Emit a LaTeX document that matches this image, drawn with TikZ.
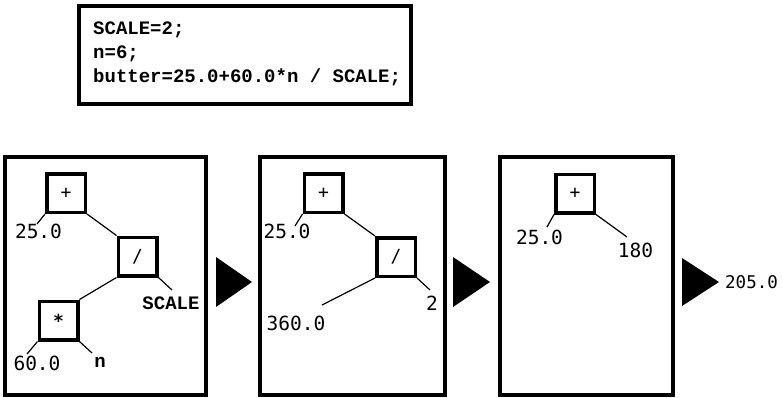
\documentclass[tikz,border=0pt]{standalone}
\usepackage{fontspec}
\newfontfamily\labfont{DejaVu Sans Mono}
\newfontfamily\courfont{Liberation Mono}
\begin{document}
\begin{tikzpicture}[x=1pt,y=-1pt,
  panel/.style={draw, line width=4pt},
  opbox/.style={draw, line width=3.5pt, minimum width=38.5pt, minimum height=38.5pt, inner sep=0pt, font=\labfont\fontsize{18}{20}\selectfont},
  lab/.style={inner sep=0pt, font=\labfont\fontsize{19.5}{22}\selectfont},
  clab/.style={inner sep=0pt, font=\courfont\bfseries\fontsize{19}{22}\selectfont},
  code/.style={inner sep=0pt, anchor=base west, font=\courfont\bfseries\fontsize{19}{22}\selectfont},
  edge/.style={line width=1.2pt},
  tri/.style={fill=black}]
\useasboundingbox (0,0) rectangle (783,397);

% code box
\node[draw, line width=4pt, minimum width=332pt, minimum height=98pt, inner sep=0pt] (codebox) at (245,55) {};
\node[code] (l1) at (93,34) {SCALE=2;};
\node[code] (l2) at (93,58) {n=6;};
\node[code] (l3) at (93,82) {butter=25.0+60.0*n / SCALE;};

% panels
\draw[panel] (5,157) rectangle (205.5,395);
\draw[panel] (260,157) rectangle (445,395);
\draw[panel] (500,157) rectangle (673,395);

% triangles
\fill[tri] (216,257) -- (216,307) -- (252,282) -- cycle;
\fill[tri] (453,257) -- (453,307) -- (490,282) -- cycle;
\fill[tri] (682,258) -- (682,306) -- (719,282) -- cycle;

% panel 1
\node[opbox] (plus1) at (66,193) {+};
\node[opbox] (div1) at (137.5,256.5) {/};
\node[opbox, font=\labfont\bfseries\fontsize{18}{20}\selectfont] (mul1) at (58.5,320.5) {*};
\node[lab] (a1) at (38.5,231) {25.0};
\node[clab] (s1) at (171,303) {SCALE};
\node[lab] (b1) at (37,363) {60.0};
\node[clab] (n1) at (100,362) {n};
\coordinate (ea1) at (37,224);
\coordinate (es1) at (172,290);
\coordinate (eb1) at (27,354);
\coordinate (en1) at (92,353);
\draw[edge] (plus1.south west) -- (ea1);
\draw[edge] (plus1.south east) -- (div1.north west);
\draw[edge] (div1.south east) -- (es1);
\draw[edge] (div1.south west) -- (mul1.north east);
\draw[edge] (mul1.south west) -- (eb1);
\draw[edge] (mul1.south east) -- (en1);

% panel 2
\node[opbox] (plus2) at (323.5,193) {+};
\node[opbox] (div2) at (396,257) {/};
\node[lab] (a2) at (287,231) {25.0};
\node[lab] (t2) at (432,303) {2};
\node[lab] (c2) at (296,323) {360.0};
\coordinate (ea2) at (295,226);
\coordinate (et2) at (430,290);
\coordinate (ec2) at (322,305);
\draw[edge] (plus2.south west) -- (ea2);
\draw[edge] (plus2.south east) -- (div2.north west);
\draw[edge] (div2.south east) -- (et2);
\draw[edge] (div2.south west) -- (ec2);

% panel 3
\node[opbox] (plus3) at (575,193.5) {+};
\node[lab] (a3) at (539.5,237) {25.0};
\node[lab] (r3) at (635.5,250) {180};
\coordinate (ea3) at (547,227);
\coordinate (er3) at (627,237);
\draw[edge] (plus3.south west) -- (ea3);
\draw[edge] (plus3.south east) -- (er3);

% result
\node[lab, anchor=west, font=\labfont\fontsize{17.5}{20}\selectfont] (res) at (725,282) {205.0};
\end{tikzpicture}
\end{document}
